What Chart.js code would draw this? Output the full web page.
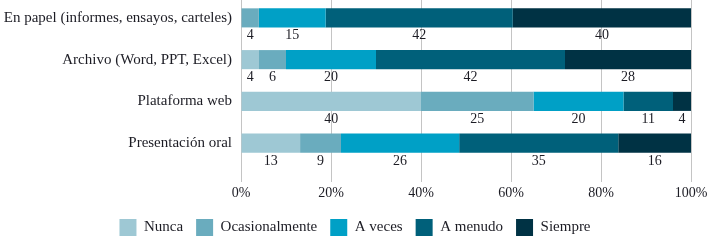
<!DOCTYPE html>
<html><head><meta charset="utf-8">
<script src="https://cdn.jsdelivr.net/npm/chart.js@4/dist/chart.umd.min.js"></script>
<style>
html,body{margin:0;padding:0;background:#fff;overflow:hidden;}
#wrap{position:relative;width:710px;height:240px;overflow:hidden;}
#c{position:absolute;left:0;top:-3px;width:710px;height:249px;}
</style></head><body>
<div id="wrap"><canvas id="c" width="710" height="249"></canvas></div>
<script>
const categories = ['En papel (informes, ensayos, carteles)', 'Archivo (Word, PPT, Excel)', 'Plataforma web', 'Presentación oral'];
const seriesNames = ['Nunca', 'Ocasionalmente', 'A veces', 'A menudo', 'Siempre'];
const nunca = [0, 4, 40, 13];
const ocasionalmente = [4, 6, 25, 9];
const aVeces = [15, 20, 20, 26];
const aMenudo = [42, 42, 11, 35];
const siempre = [40, 28, 4, 16];
const tickLabels = ['0%', '20%', '40%', '60%', '80%', '100%'];

const seriesValues = [nunca, ocasionalmente, aVeces, aMenudo, siempre];
const colors = ['#9ec8d4', '#6aacbe', '#00a0c6', '#00607a', '#003244'];
const totals = categories.map((_, j) => seriesValues.reduce((s, arr) => s + arr[j], 0));
const FONT = '"Liberation Serif", "Times New Roman", serif';
const TXT = '#1c1c24';

const valueLabels = {
  id: 'valueLabels',
  afterDatasetsDraw(chart) {
    const ctx = chart.ctx;
    ctx.save();
    ctx.font = '14px ' + FONT;
    ctx.fillStyle = TXT;
    ctx.textAlign = 'center';
    ctx.textBaseline = 'alphabetic';
    chart.data.datasets.forEach((ds, i) => {
      const meta = chart.getDatasetMeta(i);
      meta.data.forEach((el, j) => {
        const v = ds.rawValues[j];
        if (!v) return;
        const p = el.getProps(['x', 'base', 'y', 'height'], true);
        ctx.fillText(String(v), (p.x + p.base) / 2, p.y + p.height / 2 + 12);
      });
    });
    ctx.restore();
  }
};

new Chart(document.getElementById('c'), {
  type: 'bar',
  data: {
    labels: categories,
    datasets: seriesNames.map((name, i) => ({
      label: name,
      rawValues: seriesValues[i],
      data: seriesValues[i].map((v, j) => v * 100 / totals[j]),
      backgroundColor: colors[i],
      borderWidth: 0,
      categoryPercentage: 1,
      barPercentage: 0.457
    }))
  },
  options: {
    indexAxis: 'y',
    responsive: false,
    animation: false,
    events: [],
    layout: { padding: { left: 0, right: 0, top: 0, bottom: 0 } },
    plugins: {
      tooltip: { enabled: false },
      legend: {
        position: 'bottom',
        labels: {
          boxWidth: 17, boxHeight: 17, padding: 13,
          color: TXT,
          font: { family: FONT, size: 15 }
        }
      }
    },
    scales: {
      x: {
        stacked: true, min: 0, max: 100,
        afterFit(scale) { scale.height = 42; scale.paddingRight = 19; scale.paddingLeft = 0; },
        grid: { color: '#c4c4c4', lineWidth: 1, drawTicks: true, tickLength: 18, tickColor: '#c4c4c4' },
        border: { display: false },
        ticks: {
          stepSize: 20, padding: 3, color: TXT, maxRotation: 0,
          font: { family: FONT, size: 14 },
          callback: (v, idx) => tickLabels[idx]
        }
      },
      y: {
        stacked: true,
        afterFit(scale) { scale.width = 241; scale.paddingTop = 0; scale.paddingBottom = 0; },
        grid: { display: false, drawTicks: false },
        border: { display: false },
        ticks: { padding: 9, color: TXT, font: { family: FONT, size: 15 } }
      }
    }
  },
  plugins: [valueLabels]
});
</script>
</body></html>
